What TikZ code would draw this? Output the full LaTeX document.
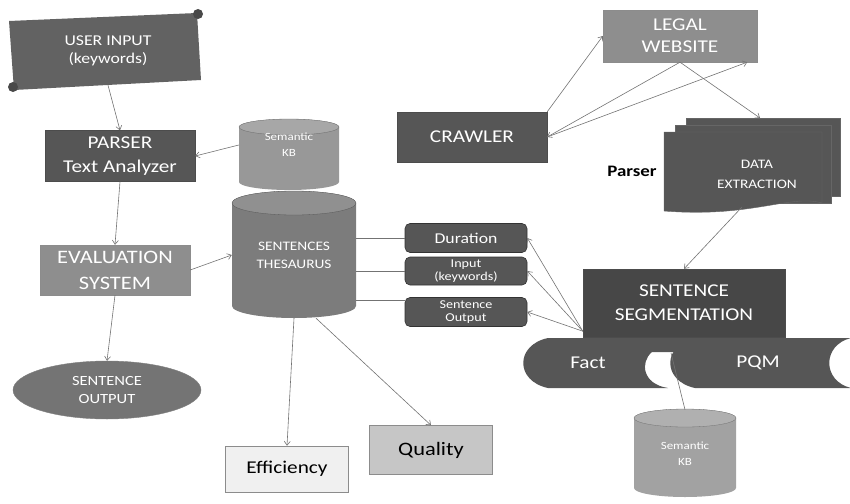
\documentclass[tikz,border=0pt]{standalone}
\usepackage{fontspec}
\setmainfont[FakeStretch=1.18]{Carlito}
\usetikzlibrary{arrows.meta,shapes.geometric}
\definecolor{cdark}{HTML}{565656}
\definecolor{cuser}{HTML}{626262}
\definecolor{clight}{HTML}{8E8E8E}
\definecolor{ckb}{HTML}{989898}
\definecolor{cthes}{HTML}{7C7C7C}
\definecolor{cout}{HTML}{747474}
\definecolor{ckb2}{HTML}{A2A2A2}
\definecolor{cqual}{HTML}{C6C6C6}
\definecolor{ceff}{HTML}{F0F0F0}
\begin{document}
\begin{tikzpicture}[x=1pt,y=-1pt,
  conn/.style={draw=black!55, line width=0.6pt},
  arr/.style={conn, -{Straight Barb[length=4pt,width=6pt]}},
  lbl/.style={text=white, align=center, inner sep=0pt},
  boxd/.style={lbl, rectangle, fill=cdark, draw=black!70, line width=0.4pt},
  boxl/.style={lbl, rectangle, fill=clight, draw=black!45, line width=0.4pt},
  small/.style={lbl, rectangle, rounded corners=5pt, fill=cdark, draw=black!80, line width=0.6pt, minimum width=122pt},
  f12/.style={font=\fontsize{12pt}{13pt}\selectfont},
  f13/.style={font=\fontsize{13pt}{18pt}\selectfont},
  f14/.style={font=\fontsize{14pt}{18pt}\selectfont},
  f18/.style={font=\fontsize{18pt}{24pt}\selectfont}
]
\useasboundingbox (0,0) rectangle (850,503);

% ---------- USER INPUT scroll ----------
\fill[cuser] (9,21) -- (197,13) -- (201,80) -- (14,90) -- cycle;
\fill[cuser!75!black] (198,14) circle[radius=5pt];
\fill[cuser!75!black] (13,87) circle[radius=5pt];
\node[lbl, font=\fontsize{15pt}{18pt}\selectfont, minimum width=185pt, minimum height=68pt] (user) at (108,51) {USER INPUT\\(keywords)};

% ---------- PARSER ----------
\node[boxd, f18, minimum width=150pt, minimum height=51pt] (parser) at (120,156) {PARSER\\Text Analyzer};

% ---------- Semantic KB (top) ----------
\fill[ckb] (239,127) -- (239,182) arc[start angle=180,end angle=360,x radius=50pt,y radius=8pt] -- (339,127) arc[start angle=0,end angle=180,x radius=50pt,y radius=8pt] -- cycle;
\filldraw[fill=ckb!85!white, draw=ckb!70!black, line width=0.3pt] (289,127) ellipse[x radius=50pt,y radius=8pt];
\node[lbl, font=\fontsize{11pt}{16pt}\selectfont, minimum width=100pt, minimum height=50pt] (kbtop) at (289,145) {Semantic\\KB};

% ---------- SENTENCES THESAURUS ----------
\fill[cthes] (232,203) -- (232,306) arc[start angle=180,end angle=360,x radius=62pt,y radius=12pt] -- (356,203) arc[start angle=0,end angle=180,x radius=62pt,y radius=12pt] -- cycle;
\filldraw[fill=cthes!85!white, draw=cthes!70!black, line width=0.3pt] (294,203) ellipse[x radius=62pt,y radius=12pt];
\node[lbl, f13, minimum width=124pt, minimum height=126pt] (thes) at (294,255) {SENTENCES\\THESAURUS};

% ---------- EVALUATION SYSTEM ----------
\node[boxl, font=\fontsize{19pt}{26pt}\selectfont, minimum width=150pt, minimum height=50pt] (eval) at (115,270) {EVALUATION\\SYSTEM};

% ---------- SENTENCE OUTPUT ----------
\node[lbl, ellipse, fill=cout, draw=black!50, line width=0.4pt, f14, minimum width=188pt, minimum height=58pt, inner sep=0pt] (sout) at (107,390) {SENTENCE\\OUTPUT};

% ---------- small boxes ----------
\node[small, font=\fontsize{15pt}{16pt}\selectfont, minimum height=29pt] (dur) at (466,238) {Duration};
\node[small, f12, minimum height=28pt] (inp) at (466,271) {Input\\(keywords)};
\node[small, f12, minimum height=29pt] (sot) at (466,312) {Sentence\\Output};

% ---------- CRAWLER / LEGAL WEBSITE ----------
\node[boxd, f18, minimum width=150pt, minimum height=50pt] (crawler) at (472,137) {CRAWLER};
\node[boxl, minimum width=154pt, minimum height=52pt, font=\fontsize{18pt}{22pt}\selectfont] (legal) at (680,36) {LEGAL\\WEBSITE};

% ---------- DATA EXTRACTION (multi document) ----------
\filldraw[fill=cdark, draw=black!60, line width=0.4pt] (686,118) rectangle (840,196);
\filldraw[fill=cdark, draw=black!60, line width=0.4pt] (675,125) rectangle (831,203);
\filldraw[fill=cdark, draw=black!60, line width=0.4pt] (664,132) -- (822,132) -- (822,203) .. controls (790,194) and (752,218) .. (664,211) -- cycle;
\node[lbl, font=\fontsize{13pt}{20pt}\selectfont] (dataex) at (757,174) {DATA\\EXTRACTION};
\node[inner sep=0pt, font=\bfseries\fontsize{16pt}{18pt}\selectfont] (plabel) at (632,171) {Parser};
\coordinate (dxtop) at (760,118);
\coordinate (dxbot) at (742,207);

% ---------- SENTENCE SEGMENTATION ----------
\node[boxd, f18, minimum width=202pt, minimum height=68pt, fill=black!72] (seg) at (684,303) {SENTENCE\\SEGMENTATION};

% ---------- Fact / PQM ----------
\fill[cdark] (548,338) -- (705,338) -- (705,352) -- (652,352) .. controls (640,362) and (642,384) .. (668,388) -- (548,388) .. controls (515,381) and (515,345) .. (548,338) -- cycle;
\fill[cdark] (695,338) -- (851,338) .. controls (822,345) and (822,381) .. (851,388) -- (695,388) .. controls (662,381) and (662,345) .. (695,338) -- cycle;
\node[lbl, f18] (fact) at (588,363) {Fact};
\node[lbl, f18] (pqm) at (758,363) {PQM};
\coordinate (junc) at (671,353);

% ---------- Semantic KB (bottom) ----------
\fill[ckb2] (634,418) -- (634,488) arc[start angle=180,end angle=360,x radius=51pt,y radius=9pt] -- (736,418) arc[start angle=0,end angle=180,x radius=51pt,y radius=9pt] -- cycle;
\filldraw[fill=ckb2!85!white, draw=ckb2!70!black, line width=0.3pt] (685,418) ellipse[x radius=51pt,y radius=9pt];
\node[lbl, font=\fontsize{11pt}{16pt}\selectfont, minimum width=102pt, minimum height=88pt] (kbbot) at (685,454) {Semantic\\KB};

% ---------- Efficiency / Quality ----------
\node[rectangle, fill=ceff, draw=black!45, line width=0.5pt, font=\fontsize{18pt}{20pt}\selectfont, minimum width=123pt, minimum height=46pt] (eff) at (287,469) {Efficiency};
\node[rectangle, fill=cqual, draw=black!45, line width=0.5pt, font=\fontsize{19pt}{20pt}\selectfont, minimum width=123pt, minimum height=49pt] (qual) at (431,450) {Quality};

% ---------- connectors ----------
\draw[arr] (user.south) -- (parser.north);
\draw[arr] (kbtop.west) -- (parser.east);
\draw[arr] (parser.south) -- (eval.north);
\draw[arr] (eval.east) -- (thes.west);
\draw[arr] (eval.south) -- (sout.north);
\draw[conn] (dur.west -| thes.east) -- (dur.west);
\draw[conn] (inp.west -| thes.east) -- (inp.west);
\draw[conn] ([yshift=12pt]sot.west -| thes.east) -- ([yshift=12pt]sot.west);
\coordinate (segl) at ([yshift=6pt]seg.south west);
\draw[arr] (segl) -- (dur.east);
\draw[arr] (segl) -- (inp.east);
\draw[arr] (segl) -- (sot.east);
\draw[arr] (dxbot) -- (seg.north);
\draw[arr] (crawler.north east) -- (legal.west);
\draw[arr] (legal.south) -- (crawler.east);
\draw[arr] (crawler.east) -- ([xshift=-10pt]legal.south east);
\draw[arr] (legal.south) -- (dxtop);
\draw[arr] (thes.south) -- (eff.north);
\draw[arr] ([xshift=22pt]thes.south) -- (qual.north);
\draw[conn] (kbbot.north) -- (junc);
\end{tikzpicture}
\end{document}
